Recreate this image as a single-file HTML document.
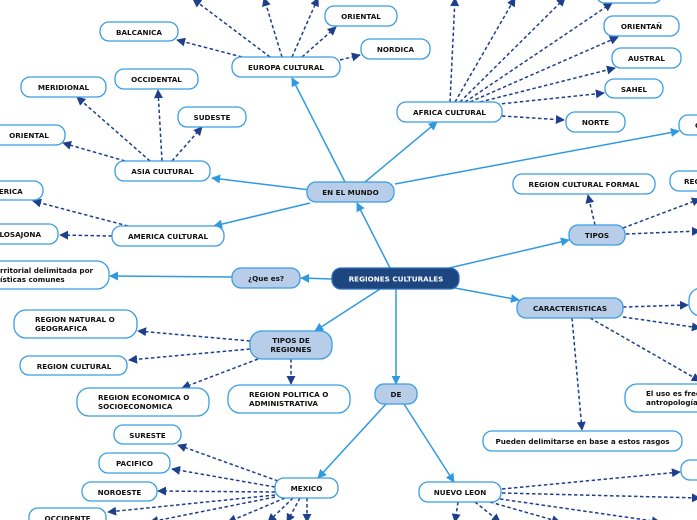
<!DOCTYPE html>
<html><head><meta charset="utf-8"><style>
html,body{margin:0;padding:0;background:#fff;width:697px;height:520px;overflow:hidden}
svg text{font-family:"DejaVu Sans","Liberation Sans",sans-serif;font-weight:bold;font-size:7.2px;fill:#111}
</style></head><body>
<svg width="697" height="520" viewBox="0 0 697 520" xmlns="http://www.w3.org/2000/svg">
<defs>
<marker id="a" viewBox="0 0 10 10" refX="9" refY="5" markerWidth="6" markerHeight="6" orient="auto"><path d="M0,0L10,5L0,10z" fill="#2f9ae0"/></marker>
<marker id="d" viewBox="0 0 10 10" refX="9" refY="5" markerWidth="6" markerHeight="6" orient="auto"><path d="M0,0L10,5L0,10z" fill="#1e3f8c"/></marker>
</defs>
<g stroke="#2f9ae0" stroke-width="1.5" marker-end="url(#a)" fill="none">
<line x1="390" y1="268" x2="357" y2="203"/>
<line x1="345" y1="182" x2="292" y2="78"/>
<line x1="365" y1="182" x2="437" y2="122"/>
<line x1="395" y1="184" x2="679" y2="131"/>
<line x1="310" y1="190" x2="212" y2="178"/>
<line x1="310" y1="203" x2="214" y2="226"/>
<line x1="332" y1="279" x2="301" y2="278"/>
<line x1="232" y1="277" x2="110" y2="276"/>
<line x1="380" y1="289" x2="315" y2="331"/>
<line x1="396" y1="289" x2="396" y2="384"/>
<line x1="455" y1="288" x2="519" y2="300"/>
<line x1="445" y1="269" x2="569" y2="240"/>
<line x1="386" y1="404" x2="318" y2="478"/>
<line x1="404" y1="404" x2="454" y2="482"/>
</g>
<g stroke="#1e3f8c" stroke-width="1.5" stroke-dasharray="3.5,2.5" marker-end="url(#d)" fill="none">
<line x1="242" y1="57" x2="177" y2="40"/>
<line x1="270" y1="57" x2="193" y2="-1"/>
<line x1="282" y1="57" x2="264" y2="-2"/>
<line x1="292" y1="57" x2="318" y2="-2"/>
<line x1="302" y1="57" x2="336" y2="27"/>
<line x1="340" y1="60" x2="360" y2="55"/>
<line x1="125" y1="161" x2="63" y2="143"/>
<line x1="150" y1="161" x2="77" y2="97"/>
<line x1="162" y1="161" x2="158" y2="90"/>
<line x1="172" y1="161" x2="202" y2="127"/>
<line x1="128" y1="226" x2="33" y2="201"/>
<line x1="112" y1="236" x2="60" y2="235"/>
<line x1="450" y1="102" x2="455" y2="-2"/>
<line x1="455" y1="102" x2="515" y2="-2"/>
<line x1="460" y1="102" x2="565" y2="-2"/>
<line x1="465" y1="102" x2="612" y2="3"/>
<line x1="470" y1="102" x2="618" y2="37"/>
<line x1="480" y1="102" x2="615" y2="68"/>
<line x1="490" y1="105" x2="604" y2="93"/>
<line x1="502" y1="116" x2="564" y2="120"/>
<line x1="595" y1="225" x2="588" y2="195"/>
<line x1="623" y1="228" x2="700" y2="199"/>
<line x1="626" y1="234" x2="700" y2="231"/>
<line x1="250" y1="341" x2="138" y2="331"/>
<line x1="250" y1="349" x2="129" y2="360"/>
<line x1="258" y1="359" x2="182" y2="388"/>
<line x1="291" y1="359" x2="291" y2="384"/>
<line x1="623" y1="307" x2="688" y2="305"/>
<line x1="623" y1="317" x2="700" y2="328"/>
<line x1="590" y1="318" x2="700" y2="381"/>
<line x1="572" y1="318" x2="582" y2="430"/>
<line x1="278" y1="481" x2="178" y2="445"/>
<line x1="275" y1="487" x2="172" y2="469"/>
<line x1="275" y1="492" x2="158" y2="491"/>
<line x1="275" y1="495" x2="108" y2="512"/>
<line x1="275" y1="497" x2="150" y2="522"/>
<line x1="285" y1="498" x2="228" y2="522"/>
<line x1="293" y1="498" x2="268" y2="522"/>
<line x1="300" y1="498" x2="287" y2="522"/>
<line x1="307" y1="498" x2="307" y2="522"/>
<line x1="502" y1="489" x2="680" y2="472"/>
<line x1="502" y1="493" x2="700" y2="498"/>
<line x1="500" y1="499" x2="660" y2="522"/>
<line x1="490" y1="502" x2="560" y2="522"/>
<line x1="475" y1="502" x2="500" y2="522"/>
<line x1="458" y1="502" x2="455" y2="522"/>
</g>
<g stroke="#3a9de3" stroke-width="1.3" fill="#fff">
<rect x="232" y="57" width="108" height="20" rx="9"/>
<rect x="100" y="22" width="78" height="19" rx="9"/>
<rect x="325" y="6" width="72" height="20" rx="9"/>
<rect x="361" y="39" width="69" height="20" rx="9"/>
<rect x="397" y="102" width="105" height="20" rx="9"/>
<rect x="596" y="-17" width="66" height="20" rx="9"/>
<rect x="604" y="16" width="75" height="20" rx="9"/>
<rect x="612" y="48" width="69" height="20" rx="9"/>
<rect x="605" y="79" width="58" height="19" rx="9"/>
<rect x="566" y="112" width="59" height="20" rx="9"/>
<rect x="679" y="115" width="40" height="20" rx="9"/>
<rect x="513" y="174" width="142" height="20" rx="9"/>
<rect x="670" y="171" width="40" height="20" rx="9"/>
<rect x="115" y="161" width="95" height="20" rx="9"/>
<rect x="21" y="77" width="85" height="20" rx="9"/>
<rect x="115" y="69" width="83" height="20" rx="9"/>
<rect x="178" y="107" width="68" height="20" rx="9"/>
<rect x="-15" y="125" width="80" height="20" rx="9"/>
<rect x="112" y="226" width="112" height="20" rx="9"/>
<rect x="-15" y="181" width="58" height="19" rx="9"/>
<rect x="-15" y="224" width="73" height="20" rx="9"/>
<rect x="-20" y="261" width="129" height="28" rx="12"/>
<rect x="14" y="310" width="123" height="28" rx="12"/>
<rect x="20" y="356" width="107" height="19" rx="9"/>
<rect x="77" y="388" width="132" height="28" rx="12"/>
<rect x="228" y="385" width="122" height="28" rx="12"/>
<rect x="689" y="288" width="30" height="28" rx="12"/>
<rect x="625" y="384" width="90" height="28" rx="12"/>
<rect x="483" y="431" width="199" height="20" rx="9"/>
<rect x="275" y="478" width="63" height="20" rx="9"/>
<rect x="114" y="425" width="67" height="19" rx="9"/>
<rect x="99" y="453" width="71" height="20" rx="9"/>
<rect x="82" y="482" width="75" height="19" rx="9"/>
<rect x="29" y="508" width="77" height="20" rx="9"/>
<rect x="419" y="482" width="82" height="20" rx="9"/>
<rect x="681" y="460" width="30" height="20" rx="9"/>
</g>
<g stroke="#3a9de3" stroke-width="1.3" fill="#b8cde8">
<rect x="307" y="182" width="87" height="20" rx="9"/>
<rect x="232" y="268" width="68" height="20" rx="9"/>
<rect x="250" y="331" width="82" height="28" rx="12"/>
<rect x="375" y="384" width="42" height="20" rx="9"/>
<rect x="517" y="298" width="106" height="20" rx="9"/>
<rect x="569" y="225" width="56" height="20" rx="9"/>
</g>
<rect x="332" y="268" width="127" height="21" rx="9" fill="#1d4580" stroke="#2f6fb8" stroke-width="1.3"/>
<g text-anchor="middle">
<text x="396" y="281.5" style="fill:#fff">REGIONES CULTURALES</text>
<text x="350.5" y="195">EN EL MUNDO</text>
<text x="286" y="70">EUROPA CULTURAL</text>
<text x="139" y="35">BALCANICA</text>
<text x="361" y="19">ORIENTAL</text>
<text x="395.5" y="52">NORDICA</text>
<text x="449.5" y="115">AFRICA CULTURAL</text>
<text x="641.5" y="29">ORIENTAÑ</text>
<text x="646.5" y="61">AUSTRAL</text>
<text x="634" y="92">SAHEL</text>
<text x="595.5" y="125">NORTE</text>
<text x="584" y="187">REGION CULTURAL FORMAL</text>
<text x="597" y="238">TIPOS</text>
<text x="162.5" y="174">ASIA CULTURAL</text>
<text x="63.5" y="90">MERIDIONAL</text>
<text x="156.5" y="82">OCCIDENTAL</text>
<text x="212" y="120">SUDESTE</text>
<text x="29" y="138">ORIENTAL</text>
<text x="168" y="239">AMERICA CULTURAL</text>
<text x="266" y="281">¿Que es?</text>
<text x="291" y="343">TIPOS DE</text>
<text x="291" y="352">REGIONES</text>
<text x="74" y="369">REGION CULTURAL</text>
<text x="396" y="397">DE</text>
<text x="570" y="311">CARACTERISTICAS</text>
<text x="582.5" y="444">Pueden delimitarse en base a estos rasgos</text>
<text x="306.5" y="491">MEXICO</text>
<text x="147.5" y="438">SURESTE</text>
<text x="134.5" y="466">PACIFICO</text>
<text x="119.5" y="495">NOROESTE</text>
<text x="67.5" y="521">OCCIDENTE</text>
<text x="460" y="495">NUEVO LEON</text>
</g>
<text x="-14" y="194">AMERICA</text>
<text x="-18" y="237">ANGLOSAJONA</text>
<text x="0" y="273">rritorial delimitada por</text>
<text x="0" y="282">ísticas comunes</text>
<text x="35" y="322">REGION NATURAL O</text>
<text x="35" y="331">GEOGRAFICA</text>
<text x="98" y="400">REGION ECONOMICA O</text>
<text x="98" y="409">SOCIOECONOMICA</text>
<text x="249" y="397">REGION POLITICA O</text>
<text x="249" y="406">ADMINISTRATIVA</text>
<text x="646" y="396">El uso es frecuente en</text>
<text x="646" y="405">antropología, geografía</text>
<text x="695" y="128">C</text>
<text x="684" y="184">REGION</text>
</svg>
</body></html>
